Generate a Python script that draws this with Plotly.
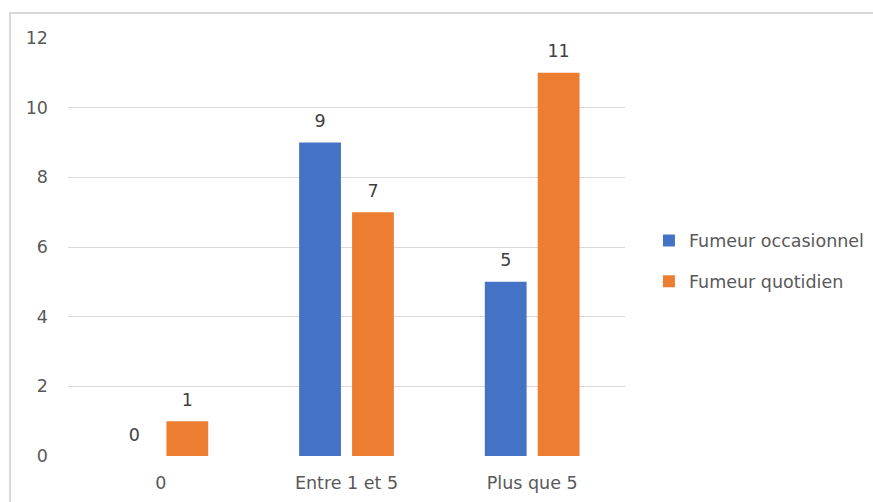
import plotly.graph_objects as go

# Number of cigarettes per day vs. type of smoker
categories = ["0", "Entre 1 et 5", "Plus que 5"]
occasionnel = [0, 9, 5]
quotidien = [1, 7, 11]
series_names = ["Fumeur occasionnel", "Fumeur quotidien"]
y_ticks = [0, 2, 4, 6, 8, 10, 12]

BLUE = "#4472C4"
ORANGE = "#ED7D31"
GRID = "#D9D9D9"
TEXT = "#595959"
LABEL = "#404040"
FONT = "DejaVu Sans"
SIZE = 17.5

fig = go.Figure()

for name, values, color in zip(series_names, [occasionnel, quotidien], [BLUE, ORANGE]):
    fig.add_trace(go.Bar(
        x=categories, y=values, name=name,
        marker=dict(color=color, line=dict(width=0)),
        legendgroup=name, hoverinfo="x+y+name",
    ))

# Value labels sitting above each bar
for name, values in zip(series_names, [occasionnel, quotidien]):
    fig.add_trace(go.Scatter(
        x=categories, y=values, mode="markers+text",
        text=[str(v) for v in values], textposition="top center",
        textfont=dict(family=FONT, size=SIZE, color=LABEL),
        marker=dict(size=16, opacity=0),
        showlegend=False, hoverinfo="skip", cliponaxis=False,
    ))

# Light frame around the chart area
fig.add_shape(type="path", xref="paper", yref="paper",
              path="M -0.104,-0.3 L -0.104,1.0597 L 1.6,1.0597",
              line=dict(color=GRID, width=2), layer="below")

fig.update_layout(
    width=873, height=502,
    margin=dict(l=68, r=248, t=38, b=46, autoexpand=False),
    paper_bgcolor="white", plot_bgcolor="white",
    barmode="group", bargap=0.43, bargroupgap=0.21,
    scattermode="group", scattergap=0.43,
    font=dict(family=FONT, size=SIZE, color=TEXT),
    legend=dict(
        x=1.043, y=0.4665, xanchor="left", yanchor="middle",
        font=dict(family=FONT, size=SIZE, color=TEXT),
        traceorder="grouped", tracegroupgap=15,
        bgcolor="rgba(0,0,0,0)",
    ),
    showlegend=True,
)

fig.update_xaxes(
    automargin=False,
    showgrid=False, showline=False, zeroline=False,
    ticks="outside", ticklen=11, tickcolor="rgba(0,0,0,0)",
    tickfont=dict(family=FONT, size=SIZE, color=TEXT),
)
fig.update_yaxes(
    automargin=False,
    range=[0, 12], tickvals=y_ticks,
    showgrid=True, gridcolor=GRID, gridwidth=1,
    zeroline=True, zerolinecolor="white",
    showline=False, ticks="", ticklabelstandoff=19,
    tickfont=dict(family=FONT, size=SIZE, color=TEXT),
)

fig.write_html("out.html")
